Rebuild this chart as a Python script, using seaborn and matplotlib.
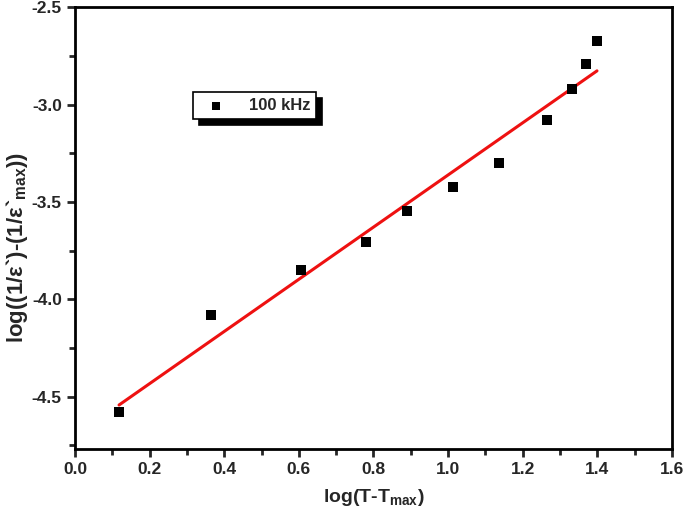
import numpy as np
import pandas as pd
import matplotlib
matplotlib.use('Agg')
import matplotlib.pyplot as plt
from matplotlib.ticker import MultipleLocator, FormatStrFormatter
import seaborn as sns

# data
log_dT = [0.118, 0.365, 0.606, 0.780, 0.890, 1.013, 1.137, 1.265, 1.332, 1.370, 1.399]
log_eps = [-4.580, -4.083, -3.852, -3.704, -3.545, -3.422, -3.299, -3.079, -2.920, -2.792, -2.674]
series_label = '100 kHz'

df = pd.DataFrame({'x': log_dT, 'y': log_eps})

# linear fit
slope, intercept = np.polyfit(df['x'], df['y'], 1)
fit = pd.DataFrame({'x': [df['x'].min(), df['x'].max()]})
fit['y'] = slope * fit['x'] + intercept

sns.set_style('ticks')
plt.rcParams['font.family'] = ['Liberation Sans', 'DejaVu Sans']
plt.rcParams['font.weight'] = 'bold'
plt.rcParams['mathtext.fontset'] = 'custom'
plt.rcParams['mathtext.rm'] = 'Liberation Sans:bold'
plt.rcParams['mathtext.it'] = 'Liberation Sans:bold'
plt.rcParams['mathtext.bf'] = 'Liberation Sans:bold'

fig = plt.figure(figsize=(6.85, 5.15), dpi=100)
ax = fig.add_axes([0.1095, 0.128, 0.8715, 0.858])

sns.scatterplot(data=df, x='x', y='y', marker='s', s=45, color='black',
                edgecolor='black', linewidth=0, label=series_label, ax=ax, zorder=3)
sns.lineplot(data=fit, x='x', y='y', color='#ee1111', linewidth=2.2, ax=ax, legend=False)

ax.set_xlim(0.0, 1.6)
ax.set_ylim(-4.77, -2.5)
ax.xaxis.set_major_locator(MultipleLocator(0.2))
ax.xaxis.set_minor_locator(MultipleLocator(0.1))
ax.yaxis.set_major_locator(MultipleLocator(0.5))
ax.yaxis.set_minor_locator(MultipleLocator(0.25))
ax.xaxis.set_major_formatter(FormatStrFormatter('%.1f'))
ax.yaxis.set_major_formatter(FormatStrFormatter('%.1f'))

for s in ax.spines.values():
    s.set_linewidth(2)
    s.set_color('black')
ax.tick_params(which='major', direction='out', length=6, width=2, labelsize=12.5)
ax.tick_params(which='minor', direction='out', length=4, width=2)
for lab in ax.get_xticklabels() + ax.get_yticklabels():
    lab.set_fontweight('bold')

ax.set_xlabel(r'log(T-T$_{\mathregular{max}}$)', fontsize=14, fontweight='bold', labelpad=7)
ax.set_ylabel(r'log((1/ε`)-(1/ε`$_{\mathregular{max}}$))',
              fontsize=16, fontweight='bold')
ax.yaxis.set_label_coords(-0.076, 0.457)

leg = ax.legend(loc='upper left', bbox_to_anchor=(0.184, 0.826), frameon=True,
                fancybox=False, shadow={'color': 'black', 'alpha': 1, 'ox': 4, 'oy': -4},
                edgecolor='black', framealpha=1, prop={'weight': 'bold', 'size': 12},
                handletextpad=1.0, borderpad=0.35, markerscale=0.8)
leg.get_frame().set_linewidth(1.2)

fig.savefig('out.png', dpi=100)
